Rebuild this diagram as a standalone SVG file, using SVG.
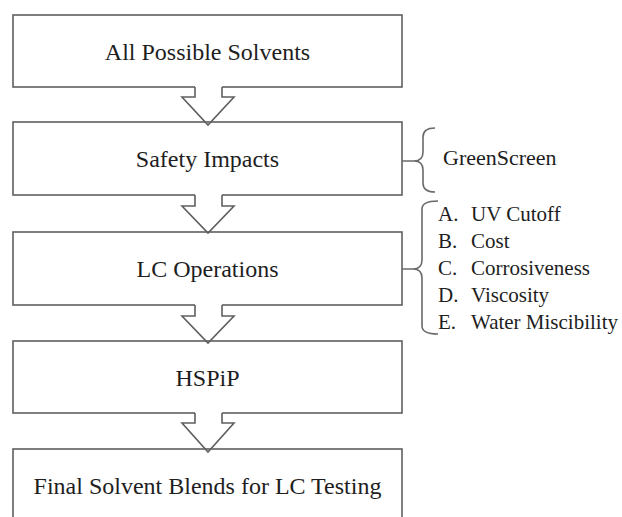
<svg xmlns="http://www.w3.org/2000/svg" width="622" height="517" viewBox="0 0 622 517">
<style>
.box{fill:none;stroke:#5f5f5f;stroke-width:1.6}
.af{fill:#fff;stroke:none}
.as{fill:none;stroke:#5f5f5f;stroke-width:1.6;stroke-linejoin:miter}
.br{fill:none;stroke:#6a6a6a;stroke-width:1.6}
text{font-family:'Liberation Serif','DejaVu Serif',serif;fill:#1e1e1e}
.m{font-size:24px;text-anchor:middle}
.s{font-size:21px}
</style>
<rect width="622" height="517" fill="#fff"/>
<g id="n1"><rect class="box" x="13" y="15" width="389" height="72"/><text class="m" x="207.5" y="60" font-family="Liberation Serif, serif">All Possible Solvents</text></g>
<g id="connectors1">
<polygon class="af" points="195,85.5 222,85.5 222,97 234,97 208,125 182,97 195,97"/>
<path class="as" d="M195,87 V97 H182 L208,125 L234,97 H222 V87"/>
</g>
<g id="n2"><rect class="box" x="13" y="122" width="389" height="73"/><text class="m" x="207.5" y="167" font-family="Liberation Serif, serif">Safety Impacts</text></g>
<g id="connectors2">
<polygon class="af" points="195,193.5 222,193.5 222,206 234,206 208,233 182,206 195,206"/>
<path class="as" d="M195,195 V206 H182 L208,233 L234,206 H222 V195"/>
</g>
<g id="n3"><rect class="box" x="13" y="232" width="389" height="73"/><text class="m" x="207.5" y="277" font-family="Liberation Serif, serif">LC Operations</text></g>
<g id="connectors3">
<polygon class="af" points="195,303.5 222,303.5 222,316 234,316 208,343 182,316 195,316"/>
<path class="as" d="M195,305 V316 H182 L208,343 L234,316 H222 V305"/>
</g>
<g id="n4"><rect class="box" x="13" y="341" width="389" height="72"/><text class="m" x="207.5" y="386" font-family="Liberation Serif, serif">HSPiP</text></g>
<g id="connectors4">
<polygon class="af" points="195,411.5 222,411.5 222,423 234,423 208,452 182,423 195,423"/>
<path class="as" d="M195,413 V423 H182 L208,452 L234,423 H222 V413"/>
</g>
<g id="n5"><rect class="box" x="13" y="449" width="389" height="73"/><text class="m" x="207.5" y="494" font-family="Liberation Serif, serif">Final Solvent Blends for LC Testing</text></g>
<g id="greenscreen">
<path class="br" d="M402,161 H414 Q423,161 423,152 V137 Q423,128 435,128 M414,161 Q423,161 423,170 V183 Q423,192 435,192"/>
<text x="443" y="165" font-size="22" font-family="Liberation Serif, serif">GreenScreen</text>
</g>
<g id="lcops" font-family="Liberation Serif, serif">
<path class="br" d="M402,269 H413 Q422,269 422,260 V209 Q422,201 438,201 M413,269 Q422,269 422,278 V326 Q422,334 438,334"/>
<text class="s" x="438" y="221">A.</text><text class="s" x="471" y="221">UV Cutoff</text>
<text class="s" x="438" y="248">B.</text><text class="s" x="471" y="248">Cost</text>
<text class="s" x="438" y="275">C.</text><text class="s" x="471" y="275">Corrosiveness</text>
<text class="s" x="438" y="302">D.</text><text class="s" x="471" y="302">Viscosity</text>
<text class="s" x="438" y="329">E.</text><text class="s" x="471" y="329">Water Miscibility</text>
</g>
</svg>
